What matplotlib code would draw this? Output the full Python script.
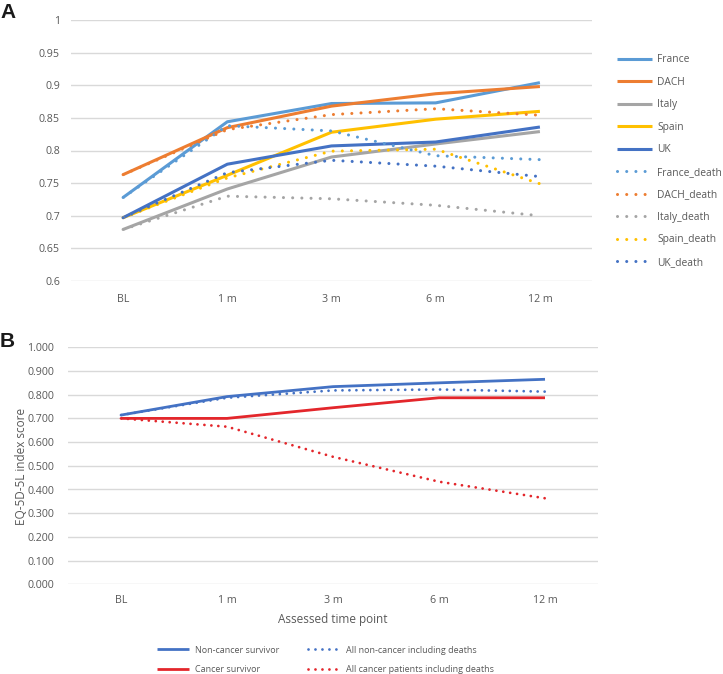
import matplotlib
matplotlib.use("Agg")
import matplotlib.pyplot as plt

# Datos panel A (por país)
puntos = ["BL", "1 m", "3 m", "6 m", "12 m"]
francia = [0.728, 0.844, 0.872, 0.873, 0.904]
dach = [0.763, 0.835, 0.868, 0.887, 0.898]
italia = [0.679, 0.741, 0.790, 0.810, 0.829]
espana = [0.697, 0.762, 0.828, 0.848, 0.860]
uk = [0.697, 0.779, 0.807, 0.813, 0.836]
francia_muerte = [0.728, 0.838, 0.830, 0.792, 0.786]
dach_muerte = [0.763, 0.832, 0.855, 0.864, 0.854]
italia_muerte = [0.679, 0.730, 0.726, 0.716, 0.700]
espana_muerte = [0.697, 0.758, 0.799, 0.802, 0.749]
uk_muerte = [0.697, 0.766, 0.785, 0.776, 0.760]

# Datos panel B
no_cancer = [0.714, 0.792, 0.834, 0.850, 0.865]
no_cancer_muertes = [0.714, 0.787, 0.818, 0.822, 0.813]
cancer = [0.700, 0.700, 0.745, 0.787, 0.787]
cancer_muertes = [0.700, 0.665, 0.538, 0.433, 0.363]

AZUL_CLARO = "#5B9BD5"
NARANJA = "#ED7D31"
GRIS = "#A5A5A5"
AMARILLO = "#FFC000"
AZUL = "#4472C4"
ROJO = "#E3262B"
TEXTO = "#595959"

plt.rcParams['font.family'] = ['Open Sans', 'DejaVu Sans']

W, H = 723, 674
fig = plt.figure(figsize=(W / 100, H / 100), dpi=100)


def ejes(x0, y0, x1, y1):
    ax = fig.add_axes([x0 / W, 1 - y1 / H, (x1 - x0) / W, (y1 - y0) / H])
    for s in ax.spines.values():
        s.set_visible(False)
    ax.tick_params(length=0, colors=TEXTO, labelsize=7.7)
    ax.grid(axis='y', color="#D9D9D9", linewidth=1)
    ax.set_axisbelow(True)
    ax.set_xlim(-0.5, 4.5)
    return ax


# --- Panel A ---
axA = ejes(71, 20, 592, 281)
x = range(len(puntos))
punteado = (0, (0.01, 3))
series_a = [
    (francia, AZUL_CLARO, "France", "-"),
    (dach, NARANJA, "DACH", "-"),
    (italia, GRIS, "Italy", "-"),
    (espana, AMARILLO, "Spain", "-"),
    (uk, AZUL, "UK", "-"),
    (francia_muerte, AZUL_CLARO, "France_death", punteado),
    (dach_muerte, NARANJA, "DACH_death", punteado),
    (italia_muerte, GRIS, "Italy_death", punteado),
    (espana_muerte, AMARILLO, "Spain_death", punteado),
    (uk_muerte, AZUL, "UK_death", punteado),
]
lineas = []
for vals, col, nombre, ls in series_a:
    l, = axA.plot(x, vals, color=col, lw=2.2, ls=ls, label=nombre,
                  dash_capstyle='round', solid_capstyle='butt')
    lineas.append(l)
axA.set_ylim(0.6, 1.0)
axA.set_yticks([0.6, 0.65, 0.7, 0.75, 0.8, 0.85, 0.9, 0.95, 1.0])
axA.set_yticklabels(["0.6", "0.65", "0.7", "0.75", "0.8", "0.85", "0.9", "0.95", "1"])
axA.set_xticks(list(x))
axA.set_xticklabels(puntos)
axA.tick_params(axis='y', pad=8)
axA.tick_params(axis='x', pad=9)

fig.legend(handles=lineas, loc='upper left', bbox_to_anchor=(612 / W, 1 - 49 / H),
           frameon=False, fontsize=7.4, handlelength=3.4, handletextpad=0.5,
           labelspacing=1.12, labelcolor=TEXTO, borderpad=0)

# --- Panel B ---
axB = ejes(68, 347.3, 598, 584.3)
punteado_b = (0, (0.01, 2.5))
lb = []
for vals, col, nombre, ls in [
    (no_cancer, AZUL, "Non-cancer survivor", "-"),
    (cancer, ROJO, "Cancer survivor", "-"),
    (no_cancer_muertes, AZUL, "All non-cancer including deaths", punteado_b),
    (cancer_muertes, ROJO, "All cancer patients including deaths", punteado_b),
]:
    l, = axB.plot(x, vals, color=col, lw=2.0, ls=ls, label=nombre,
                  dash_capstyle='round', solid_capstyle='butt')
    lb.append(l)
axB.set_ylim(0, 1.0)
axB.set_yticks([i / 10 for i in range(11)])
axB.set_yticklabels([f"{i / 10:.3f}" for i in range(11)])
axB.set_xticks(list(x))
axB.set_xticklabels(puntos)
axB.tick_params(axis='y', pad=10)
axB.tick_params(axis='x', pad=8)

fig.text(22 / W, 1 - 466 / H, "EQ-5D-5L index score", rotation=90, ha='center',
         va='center', fontsize=8.5, color=TEXTO)
fig.text(333 / W, 1 - 620 / H, "Assessed time point", ha='center', va='center',
         fontsize=8.5, color=TEXTO)

fig.legend(handles=lb, loc='upper left', bbox_to_anchor=(152 / W, 1 - 641 / H),
           ncol=2, frameon=False, fontsize=6.5, handlelength=3.6, handletextpad=0.7,
           labelspacing=1.15, columnspacing=3.1, labelcolor=TEXTO, borderpad=0)

# Etiquetas de panel
fig.text(0, 1 - 3 / H, "A", fontsize=15, fontweight='bold', family='Liberation Sans',
         va='top', ha='left', color="#1A1A1A")
fig.text(0, 1 - 332 / H, "B", fontsize=15, fontweight='bold', family='Liberation Sans',
         va='top', ha='left', color="#1A1A1A")

fig.savefig("out.png", dpi=100)
